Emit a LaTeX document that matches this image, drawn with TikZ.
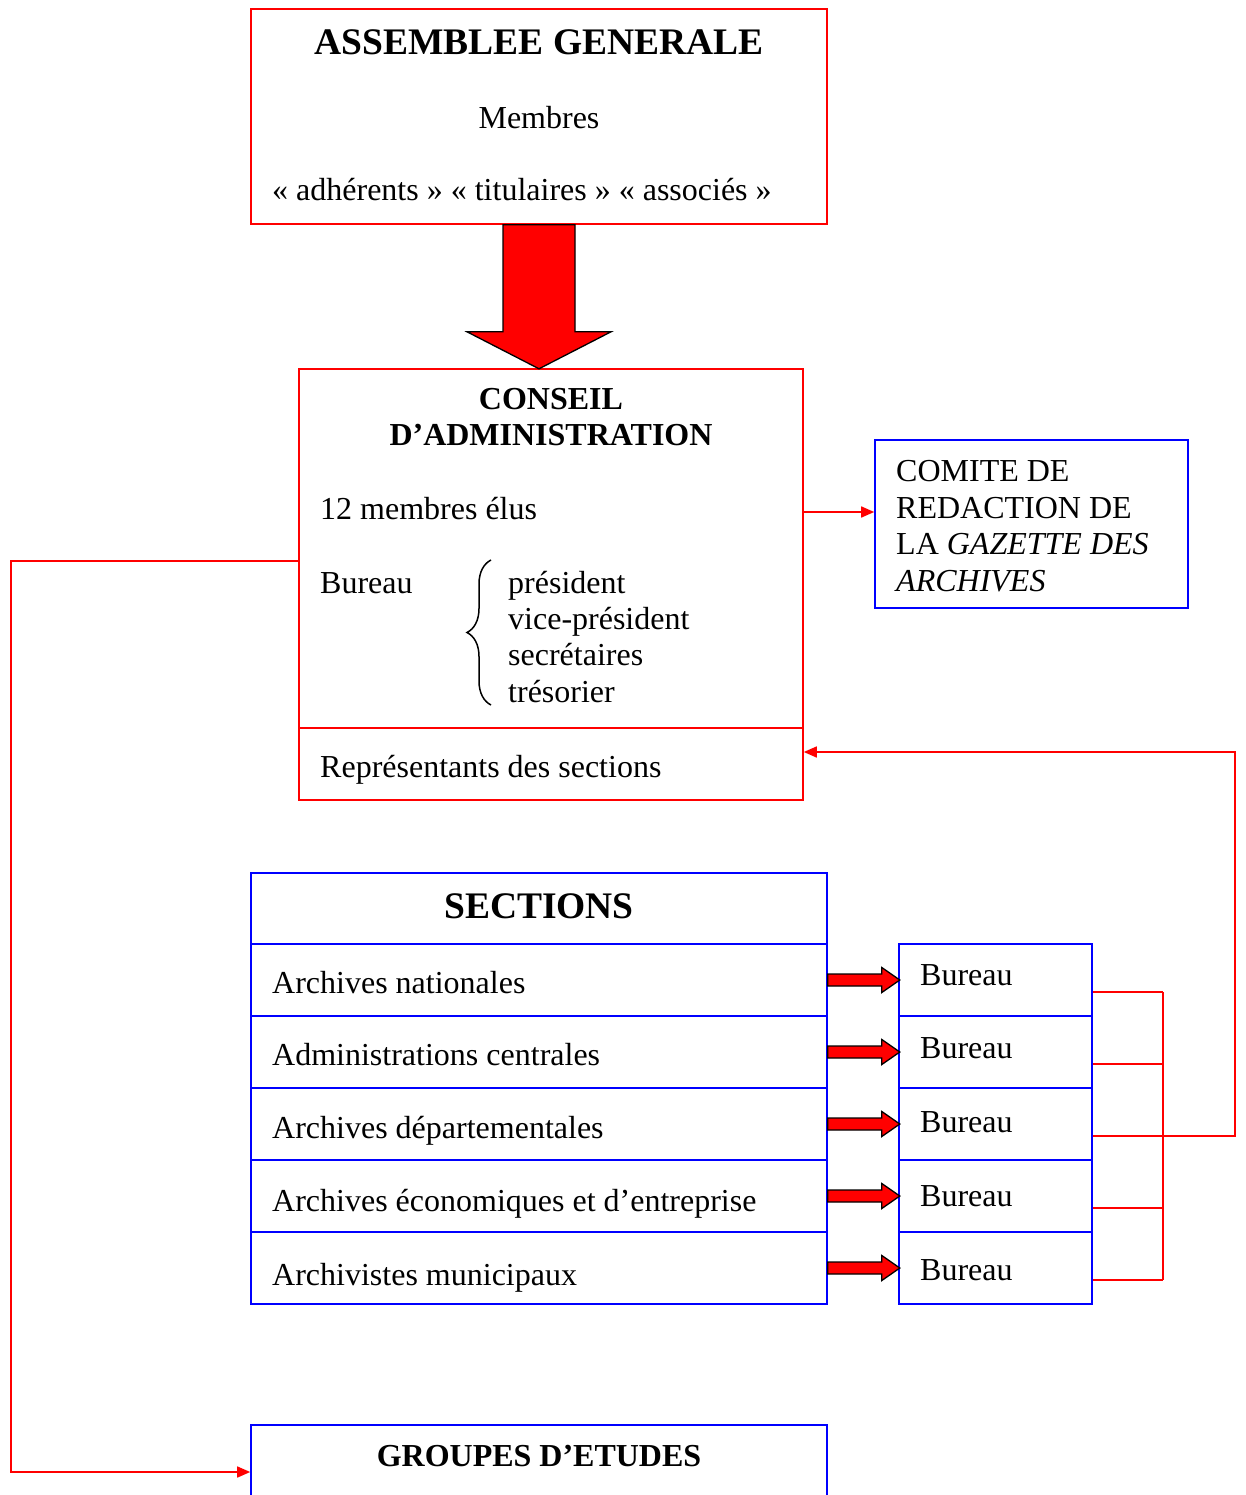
\documentclass[tikz,border=0pt]{standalone}
\usepackage{fontspec}
\setmainfont{Liberation Serif}
\usepackage{tikz}
\usetikzlibrary{arrows.meta}
\usetikzlibrary{decorations.pathreplacing}
\pgfdeclarelayer{edgelayer}
\pgfdeclarelayer{nodelayer}
\pgfsetlayers{edgelayer,nodelayer,main}
\tikzstyle{none}=[inner sep=0pt]
\tikzstyle{redbox}=[rectangle, draw=red, line width=1.6pt, inner sep=0pt]
\tikzstyle{bluebox}=[rectangle, draw=blue, line width=1.6pt, inner sep=0pt]
\tikzstyle{txt}=[inner sep=0pt, font=\fontsize{32}{36.5}\selectfont]
\tikzstyle{headtext}=[inner sep=0pt, font=\bfseries\fontsize{32}{36.5}\selectfont]
\tikzstyle{bighead}=[inner sep=0pt, font=\bfseries\fontsize{37.5}{44}\selectfont]
\tikzstyle{redline}=[draw=red, line width=1.6pt]
\tikzstyle{fatarrow}=[fill=red, draw=black, line width=1.3pt, line join=miter]
\tikzstyle{tip}=[-{Triangle[length=13pt,width=11pt]}]

\begin{document}
\begin{tikzpicture}[x=1pt, y=-1pt]
	\useasboundingbox (0,0) rectangle (1245,1495);
	\begin{pgfonlayer}{nodelayer}
		% assemblee generale
		\node [style=redbox, minimum width=576pt, minimum height=215pt] (0) at (539, 116.5) {};
		\node [style=bighead, anchor=base] (1) at (539, 55) {ASSEMBLEE GENERALE};
		\node [style=txt, anchor=base] (2) at (539, 129) {Membres};
		\node [style=txt, anchor=base west] (3) at (272, 201) {« adhérents » « titulaires » « associés »};
		% conseil
		\node [style=redbox, minimum width=504pt, minimum height=359pt] (4) at (551, 548.5) {};
		\node [style=redbox, minimum width=504pt, minimum height=72pt] (5) at (551, 764) {};
		\node [style=headtext, anchor=base] (6) at (551, 409) {CONSEIL};
		\node [style=headtext, anchor=base] (7) at (551, 445) {D’ADMINISTRATION};
		\node [style=txt, anchor=base west] (8) at (320, 519) {12 membres élus};
		\node [style=txt, anchor=base west] (9) at (320, 593) {Bureau};
		\node [style=txt, anchor=base west] (10) at (508, 593) {président};
		\node [style=txt, anchor=base west] (11) at (508, 629) {vice-président};
		\node [style=txt, anchor=base west] (12) at (508, 665) {secrétaires};
		\node [style=txt, anchor=base west] (13) at (508, 702) {trésorier};
		\node [style=txt, anchor=base west] (14) at (320, 777) {Représentants des sections};
		% comite
		\node [style=bluebox, minimum width=313pt, minimum height=168pt] (15) at (1031.5, 524) {};
		\node [style=txt, anchor=base west] (16) at (896, 481) {COMITE DE};
		\node [style=txt, anchor=base west] (17) at (896, 518) {REDACTION DE};
		\node [style=txt, anchor=base west] (18) at (896, 554) {LA \textit{GAZETTE DES}};
		\node [style=txt, anchor=base west] (19) at (896, 591) {\textit{ARCHIVES}};
		% sections
		\node [style=bluebox, minimum width=576pt, minimum height=71pt] (20) at (539, 908.5) {};
		\node [style=bighead, anchor=base] (21) at (539, 918) {SECTIONS};
		\node [style=bluebox, minimum width=576pt, minimum height=72pt] (22) at (539, 980) {};
		\node [style=bluebox, minimum width=576pt, minimum height=72pt] (23) at (539, 1052) {};
		\node [style=bluebox, minimum width=576pt, minimum height=72pt] (24) at (539, 1124) {};
		\node [style=bluebox, minimum width=576pt, minimum height=72pt] (25) at (539, 1196) {};
		\node [style=bluebox, minimum width=576pt, minimum height=72pt] (26) at (539, 1268) {};
		\node [style=txt, anchor=base west] (27) at (272, 993) {Archives nationales};
		\node [style=txt, anchor=base west] (28) at (272, 1065) {Administrations centrales};
		\node [style=txt, anchor=base west] (29) at (272, 1138) {Archives départementales};
		\node [style=txt, anchor=base west] (30) at (272, 1211) {Archives économiques et d’entreprise};
		\node [style=txt, anchor=base west] (31) at (272, 1285) {Archivistes municipaux};
		% bureaux
		\node [style=bluebox, minimum width=193pt, minimum height=72pt] (32) at (995.5, 980) {};
		\node [style=bluebox, minimum width=193pt, minimum height=72pt] (33) at (995.5, 1052) {};
		\node [style=bluebox, minimum width=193pt, minimum height=72pt] (34) at (995.5, 1124) {};
		\node [style=bluebox, minimum width=193pt, minimum height=72pt] (35) at (995.5, 1196) {};
		\node [style=bluebox, minimum width=193pt, minimum height=72pt] (36) at (995.5, 1268) {};
		\node [style=txt, anchor=base west] (37) at (920, 985) {Bureau};
		\node [style=txt, anchor=base west] (38) at (920, 1058) {Bureau};
		\node [style=txt, anchor=base west] (39) at (920, 1132) {Bureau};
		\node [style=txt, anchor=base west] (40) at (920, 1206) {Bureau};
		\node [style=txt, anchor=base west] (41) at (920, 1280) {Bureau};
		% groupes d'etudes
		\node [style=bluebox, minimum width=576pt, minimum height=94pt] (42) at (539, 1472) {};
		\node [style=headtext, anchor=base] (43) at (539, 1466) {GROUPES D’ETUDES};
		\coordinate (44) at (11, 561);
		\coordinate (45) at (1163, 0);
		\coordinate (46) at (1235, 0);
	\end{pgfonlayer}
	\begin{pgfonlayer}{edgelayer}
		\draw [style=redline, style=tip] ([yshift=36.5pt]4.east) to ([yshift=36.5pt]4.east -| 15.west);
		\draw [style=redline, style=tip] ([yshift=-12.5pt]4.west) -- (44) |- (42.west);
		\draw [style=redline] ([yshift=-12pt]32.east) to ([yshift=-12pt]32.east -| 45);
		\draw [style=redline] ([yshift=-12pt]33.east) to ([yshift=-12pt]33.east -| 45);
		\draw [style=redline] ([yshift=-12pt]34.east) to ([yshift=-12pt]34.east -| 45);
		\draw [style=redline] ([yshift=-12pt]35.east) to ([yshift=-12pt]35.east -| 45);
		\draw [style=redline] ([yshift=-12pt]36.east) to ([yshift=-12pt]36.east -| 45);
		\draw [style=redline] ([yshift=-12pt]32.east -| 45) to ([yshift=-12pt]36.east -| 45);
		\draw [style=redline, style=tip] ([yshift=-12pt]34.east -| 45) -- ([yshift=-12pt]34.east -| 46) |- ([yshift=12pt]5.east);
	\end{pgfonlayer}
	\draw [decorate, decoration={brace, amplitude=24pt}, line width=1.5pt] (491, 705) -- (491, 560);
	\filldraw [style=fatarrow, shift={(0.south)}] (-36,0) -- (-36,107) -- (-72,107) -- (0,144) -- (72,107) -- (36,107) -- (36,0) -- cycle;
	\filldraw [style=fatarrow, shift={(22.east)}] (0,-6) -- (54,-6) -- (54,-12.5) -- (72,0) -- (54,12.5) -- (54,6) -- (0,6) -- cycle;
	\filldraw [style=fatarrow, shift={(23.east)}] (0,-6) -- (54,-6) -- (54,-12.5) -- (72,0) -- (54,12.5) -- (54,6) -- (0,6) -- cycle;
	\filldraw [style=fatarrow, shift={(24.east)}] (0,-6) -- (54,-6) -- (54,-12.5) -- (72,0) -- (54,12.5) -- (54,6) -- (0,6) -- cycle;
	\filldraw [style=fatarrow, shift={(25.east)}] (0,-6) -- (54,-6) -- (54,-12.5) -- (72,0) -- (54,12.5) -- (54,6) -- (0,6) -- cycle;
	\filldraw [style=fatarrow, shift={(26.east)}] (0,-6) -- (54,-6) -- (54,-12.5) -- (72,0) -- (54,12.5) -- (54,6) -- (0,6) -- cycle;
\end{tikzpicture}
\end{document}
